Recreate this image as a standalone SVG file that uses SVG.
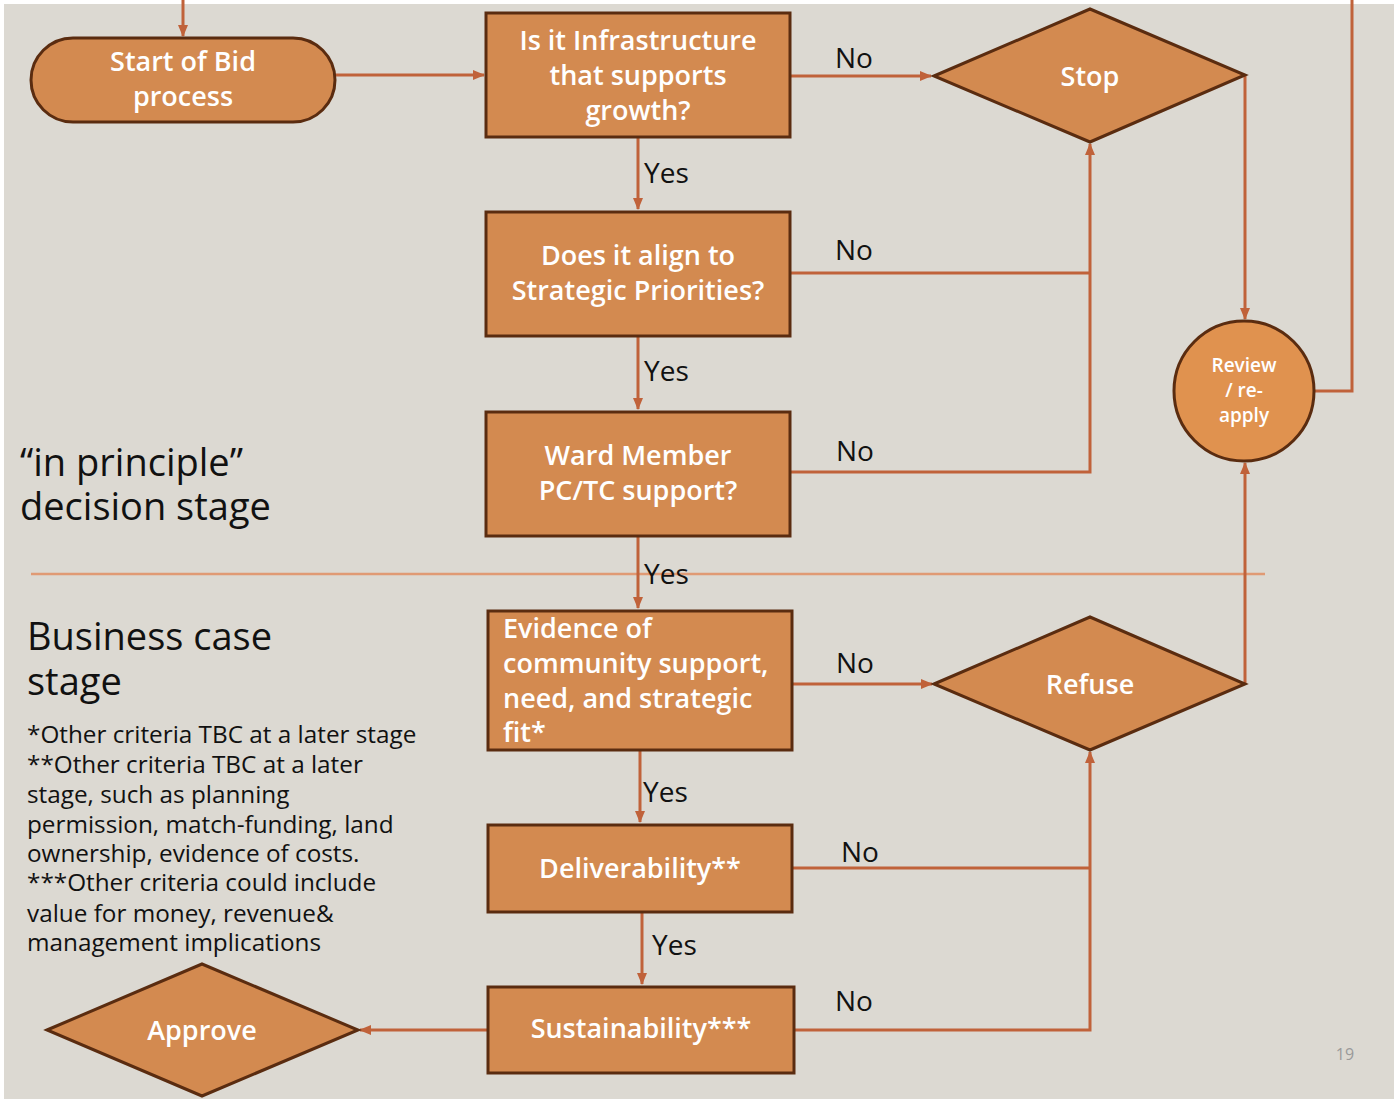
<svg xmlns="http://www.w3.org/2000/svg" width="1399" height="1099" viewBox="0 0 1399 1099">
<defs>
<marker id="ah" viewBox="0 0 12 10" refX="11" refY="5" markerWidth="12" markerHeight="10" markerUnits="userSpaceOnUse" orient="auto">
<path d="M0,0 L12,5 L0,10 Z" fill="#c0623a"/>
</marker>
<style>
.n{fill:#d38a50;stroke:#5a2c10;stroke-width:3}
.c{fill:none;stroke:#c0623a;stroke-width:3}
.t{font-family:"Open Sans","Noto Sans",sans-serif;fill:#ffffff;text-anchor:middle;font-weight:600}
.ls{text-anchor:start}
.l{font-family:"Open Sans","Noto Sans",sans-serif;fill:#111111;font-size:28px}
.h{font-family:"Open Sans","Noto Sans",sans-serif;fill:#111111;font-size:38px}
.s{font-family:"Open Sans","Noto Sans",sans-serif;fill:#111111;font-size:24.3px}
</style>
</defs>
<rect x="0" y="0" width="1399" height="1099" fill="#ffffff"/>
<rect x="4" y="4" width="1390" height="1095" fill="#dcd9d2"/>
<line x1="31" y1="574" x2="1265" y2="574" stroke="#e09a74" stroke-width="2.5"/>
<g id="connectors">
<path class="c" d="M183,0 V36" marker-end="url(#ah)"/>
<path class="c" d="M335,75 H484" marker-end="url(#ah)"/>
<path class="c" d="M790,76 H931" marker-end="url(#ah)"/>
<path class="c" d="M638,137 V209" marker-end="url(#ah)"/>
<path class="c" d="M638,336 V409" marker-end="url(#ah)"/>
<path class="c" d="M638,536 V608" marker-end="url(#ah)"/>
<path class="c" d="M790,273 H1090"/>
<path class="c" d="M790,472 H1090 V144" marker-end="url(#ah)"/>
<path class="c" d="M1245,75 V319" marker-end="url(#ah)"/>
<path class="c" d="M1245,684 V463" marker-end="url(#ah)"/>
<path class="c" d="M1314,391 H1352 V0"/>
<path class="c" d="M792,684 H932" marker-end="url(#ah)"/>
<path class="c" d="M640,750 V822" marker-end="url(#ah)"/>
<path class="c" d="M642,912 V984" marker-end="url(#ah)"/>
<path class="c" d="M792,868 H1090"/>
<path class="c" d="M794,1030 H1090 V752" marker-end="url(#ah)"/>
<path class="c" d="M488,1030 H360" marker-end="url(#ah)"/>
<text class="l" x="835" y="68">No</text>
<text class="l" x="644" y="183">Yes</text>
<text class="l" x="835" y="260">No</text>
<text class="l" x="644" y="381">Yes</text>
<text class="l" x="836" y="461">No</text>
<text class="l" x="644" y="584">Yes</text>
<text class="l" x="836" y="673">No</text>
<text class="l" x="643" y="802">Yes</text>
<text class="l" x="841" y="862">No</text>
<text class="l" x="652" y="955">Yes</text>
<text class="l" x="835" y="1011">No</text>
</g>
<g id="start">
<rect class="n" x="31" y="38" width="304" height="84" rx="42" ry="42"/>
<text class="t" font-size="27" x="183" y="71">Start of Bid</text>
<text class="t" font-size="27" x="183" y="106">process</text>
</g>
<g id="infrastructure">
<rect class="n" x="486" y="13" width="304" height="124"/>
<text class="t" font-size="27" x="638" y="50">Is it Infrastructure</text>
<text class="t" font-size="27" x="638" y="85">that supports</text>
<text class="t" font-size="27" x="638" y="120">growth?</text>
</g>
<g id="stop">
<polygon class="n" points="934,76 1090,9 1245,75 1090,142"/>
<text class="t" font-size="27" x="1090" y="86">Stop</text>
</g>
<g id="strategic">
<rect class="n" x="486" y="212" width="304" height="124"/>
<text class="t" font-size="27" x="638" y="265">Does it align to</text>
<text class="t" font-size="27" x="638" y="300">Strategic Priorities?</text>
</g>
<g id="ward">
<rect class="n" x="486" y="412" width="304" height="124"/>
<text class="t" font-size="27" x="638" y="465">Ward Member</text>
<text class="t" font-size="27" x="638" y="500">PC/TC support?</text>
</g>
<g id="review">
<circle cx="1244" cy="391" r="70" fill="#e0924f" stroke="#5a2c10" stroke-width="3"/>
<text class="t" font-size="19" x="1244" y="372">Review</text>
<text class="t" font-size="19" x="1244" y="397">/ re-</text>
<text class="t" font-size="19" x="1244" y="422">apply</text>
</g>
<g id="evidence">
<rect class="n" x="488" y="611" width="304" height="139"/>
<text class="t ls" font-size="27" x="503" y="638">Evidence of</text>
<text class="t ls" font-size="27" x="503" y="673">community support,</text>
<text class="t ls" font-size="27" x="503" y="708">need, and strategic</text>
<text class="t ls" font-size="27" x="503" y="742">fit*</text>
</g>
<g id="refuse">
<polygon class="n" points="934,684 1090,617 1245,684 1090,750"/>
<text class="t" font-size="27" x="1090" y="694">Refuse</text>
</g>
<g id="deliverability">
<rect class="n" x="488" y="825" width="304" height="87"/>
<text class="t" font-size="27" x="640" y="878">Deliverability**</text>
</g>
<g id="sustainability">
<rect class="n" x="488" y="987" width="306" height="86"/>
<text class="t" font-size="27" x="641" y="1038">Sustainability***</text>
</g>
<g id="approve">
<polygon class="n" points="47,1030 202,964 358,1030 202,1096"/>
<text class="t" font-size="27" x="202" y="1040">Approve</text>
</g>
<g id="labels">
<text class="h" x="20" y="476">“in principle”</text>
<text class="h" x="20" y="520">decision stage</text>
<text class="h" x="27" y="650">Business case</text>
<text class="h" x="27" y="695">stage</text>
<text class="s" x="27" y="743">*Other criteria TBC at a later stage</text>
<text class="s" x="27" y="773">**Other criteria TBC at a later</text>
<text class="s" x="27" y="803">stage, such as planning</text>
<text class="s" x="27" y="833">permission, match-funding, land</text>
<text class="s" x="27" y="862">ownership, evidence of costs.</text>
<text class="s" x="27" y="891">***Other criteria could include</text>
<text class="s" x="27" y="922">value for money, revenue&amp;</text>
<text class="s" x="27" y="951">management implications</text>
<text x="1345" y="1060" font-family="Open Sans, sans-serif" font-size="16" fill="#9a9a9a" text-anchor="middle">19</text>
</g>
</svg>
